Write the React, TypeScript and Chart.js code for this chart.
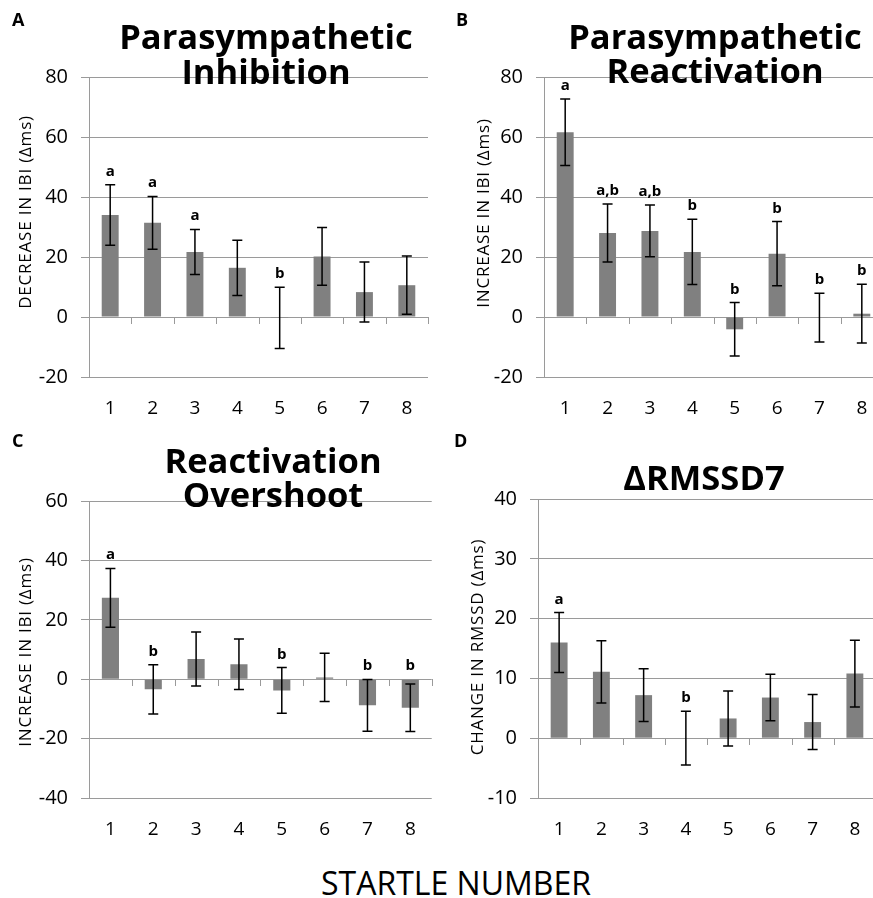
import React, { useEffect, useRef } from 'react';
import { Chart, registerables } from 'chart.js';

Chart.register(...registerables);

const FONT = "'Open Sans', sans-serif";
Chart.defaults.font.family = FONT;

// ---------- data ----------
const startleLabels = ['1', '2', '3', '4', '5', '6', '7', '8'];

const inhibitionMeans = [34.0, 31.4, 21.7, 16.4, -0.3, 20.2, 8.3, 10.6];
const inhibitionErrors = [10.1, 8.8, 7.5, 9.2, 10.2, 9.6, 10.0, 9.7];
const inhibitionLetters = ['a', 'a', 'a', '', 'b', '', '', ''];
const inhibitionTicks = { min: -20, max: 80, step: 20 };

const reactivationMeans = [61.6, 28.0, 28.7, 21.7, -4.1, 21.1, -0.2, 1.1];
const reactivationErrors = [11.1, 9.7, 8.6, 10.9, 8.9, 10.7, 8.1, 9.8];
const reactivationLetters = ['a', 'a,b', 'a,b', 'b', 'b', 'b', 'b', 'b'];
const reactivationTicks = { min: -20, max: 80, step: 20 };

const overshootMeans = [27.4, -3.4, 6.8, 5.0, -3.8, 0.6, -8.8, -9.6];
const overshootErrors = [9.9, 8.3, 9.1, 8.5, 7.7, 8.1, 8.7, 8.0];
const overshootLetters = ['a', 'b', '', '', 'b', '', 'b', 'b'];
const overshootTicks = { min: -40, max: 60, step: 20 };

const rmssdMeans = [16.0, 11.1, 7.2, 0.0, 3.3, 6.8, 2.7, 10.8];
const rmssdErrors = [5.0, 5.2, 4.4, 4.5, 4.6, 3.9, 4.6, 5.6];
const rmssdLetters = ['a', '', '', 'b', '', '', '', ''];
const rmssdTicks = { min: -10, max: 40, step: 10 };

const xAxisTitle = 'STARTLE NUMBER';

// ---------- layout ----------
type PanelDef = {
  key: string;
  left: number; top: number; width: number; height: number;
  chartLeft: number; chartTop: number; chartRight: number; chartBottom: number;
  labelPad: number;
  ticks: { min: number; max: number; step: number };
  means: number[]; errors: number[]; letters: string[];
  title: string[]; titleX: number; titleBaselines: number[];
  panelLetter: string; panelLetterX: number; panelLetterY: number;
  yTitle: string; yTitleX: number; yTitleY: number;
};

const panels: PanelDef[] = [
  {
    key: 'A', left: 0, top: 0, width: 436, height: 420,
    chartLeft: 89, chartTop: 77, chartRight: 428, chartBottom: 377, labelPad: 20,
    ticks: inhibitionTicks, means: inhibitionMeans, errors: inhibitionErrors, letters: inhibitionLetters,
    title: ['Parasympathetic', 'Inhibition'], titleX: 266, titleBaselines: [49, 84],
    panelLetter: 'A', panelLetterX: 12, panelLetterY: 26,
    yTitle: 'DECREASE IN IBI (\u0394ms)', yTitleX: 24.5, yTitleY: 212,
  },
  {
    key: 'B', left: 436, top: 0, width: 460, height: 420,
    chartLeft: 108, chartTop: 77, chartRight: 447, chartBottom: 377, labelPad: 20,
    ticks: reactivationTicks, means: reactivationMeans, errors: reactivationErrors, letters: reactivationLetters,
    title: ['Parasympathetic', 'Reactivation'], titleX: 279, titleBaselines: [49, 83],
    panelLetter: 'B', panelLetterX: 20, panelLetterY: 26,
    yTitle: 'INCREASE IN IBI (\u0394ms)', yTitleX: 46.5, yTitleY: 213,
  },
  {
    key: 'C', left: 0, top: 420, width: 436, height: 420,
    chartLeft: 89, chartTop: 81, chartRight: 432, chartBottom: 378, labelPad: 20,
    ticks: overshootTicks, means: overshootMeans, errors: overshootErrors, letters: overshootLetters,
    title: ['Reactivation', 'Overshoot'], titleX: 273, titleBaselines: [53, 87],
    panelLetter: 'C', panelLetterX: 12, panelLetterY: 27,
    yTitle: 'INCREASE IN IBI (\u0394ms)', yTitleX: 25, yTitleY: 232,
  },
  {
    key: 'D', left: 436, top: 420, width: 460, height: 420,
    chartLeft: 102, chartTop: 79, chartRight: 440, chartBottom: 378, labelPad: 20,
    ticks: rmssdTicks, means: rmssdMeans, errors: rmssdErrors, letters: rmssdLetters,
    title: ['\u0394RMSSD7'], titleX: 268, titleBaselines: [70],
    panelLetter: 'D', panelLetterX: 18, panelLetterY: 27,
    yTitle: 'CHANGE IN RMSSD (\u0394ms)', yTitleX: 41, yTitleY: 227,
  },
];

const GRID = '#9a9a9a';
const BAR = '#808080';

function makeDecorPlugin(def: PanelDef) {
  return {
    id: 'decor' + def.key,
    beforeDatasetsDraw(chart: any) {
      const ctx = chart.ctx;
      const xs = chart.scales.x;
      const ys = chart.scales.y;
      const y0 = Math.round(ys.getPixelForValue(0));
      const n = startleLabels.length;
      ctx.save();
      ctx.strokeStyle = GRID;
      ctx.lineWidth = 1;
      for (let i = 0; i < n; i++) {
        const bx = Math.round(xs.getPixelForValue(i + 0.5)) + 0.5;
        ctx.beginPath();
        ctx.moveTo(bx, y0);
        ctx.lineTo(bx, y0 + 7);
        ctx.stroke();
      }
      ctx.restore();
    },
    afterDatasetsDraw(chart: any) {
      const ctx = chart.ctx;
      const ys = chart.scales.y;
      const meta = chart.getDatasetMeta(0);
      ctx.save();
      ctx.strokeStyle = '#000';
      ctx.lineWidth = 1.5;
      for (let i = 0; i < def.means.length; i++) {
        const x = meta.data[i].x;
        const top = ys.getPixelForValue(def.means[i] + def.errors[i]);
        const bot = ys.getPixelForValue(def.means[i] - def.errors[i]);
        ctx.beginPath();
        ctx.moveTo(x, top);
        ctx.lineTo(x, bot);
        ctx.moveTo(x - 5, top);
        ctx.lineTo(x + 5, top);
        ctx.moveTo(x - 5, bot);
        ctx.lineTo(x + 5, bot);
        ctx.stroke();
      }
      ctx.fillStyle = '#000';
      ctx.font = `bold 15px ${FONT}`;
      ctx.textAlign = 'center';
      ctx.textBaseline = 'alphabetic';
      for (let i = 0; i < def.letters.length; i++) {
        if (!def.letters[i]) continue;
        const x = meta.data[i].x;
        const yv = ys.getPixelForValue(Math.max(def.means[i] + def.errors[i], 0));
        ctx.fillText(def.letters[i], x, yv - 9);
      }
      ctx.restore();
    },
    afterDraw(chart: any) {
      const ctx = chart.ctx;
      ctx.save();
      ctx.fillStyle = '#000';
      ctx.textBaseline = 'alphabetic';
      // panel title
      ctx.font = `bold 34.5px ${FONT}`;
      ctx.textAlign = 'center';
      def.title.forEach((line, i) => ctx.fillText(line, def.titleX, def.titleBaselines[i]));
      // panel letter
      ctx.font = `bold 18px ${FONT}`;
      ctx.textAlign = 'left';
      ctx.fillText(def.panelLetter, def.panelLetterX, def.panelLetterY);
      // y axis title
      ctx.font = `17px ${FONT}`;
      try { (ctx as any).letterSpacing = '0.8px'; } catch (e) { /* ignore */ }
      ctx.translate(def.yTitleX + 6, def.yTitleY);
      ctx.rotate(-Math.PI / 2);
      ctx.textAlign = 'center';
      ctx.fillText(def.yTitle, 0, 0);
      ctx.restore();
    },
  };
}

function buildConfig(def: PanelDef): any {
  return {
    type: 'bar',
    data: {
      labels: startleLabels,
      datasets: [
        {
          data: def.means,
          backgroundColor: BAR,
          borderWidth: 0,
          barPercentage: 0.4,
          categoryPercentage: 1,
        },
      ],
    },
    options: {
      animation: false,
      responsive: false,
      maintainAspectRatio: false,
      devicePixelRatio: 1,
      layout: {
        padding: { top: def.chartTop, right: def.width - def.chartRight, left: 0, bottom: 0 },
      },
      plugins: {
        legend: { display: false },
        tooltip: { enabled: false },
        title: { display: false },
      },
      scales: {
        x: {
          grid: { display: false, drawTicks: false },
          border: { display: false },
          ticks: { color: '#000', font: { family: FONT, size: 19 }, padding: def.labelPad, maxRotation: 0 },
          afterFit(s: any) { s.height = def.height - def.chartBottom; },
        },
        y: {
          min: def.ticks.min,
          max: def.ticks.max,
          ticks: { stepSize: def.ticks.step, color: '#000', font: { family: FONT, size: 20 }, padding: 13 },
          grid: { color: GRID, lineWidth: 1, tickLength: 8 },
          border: { display: true, color: GRID, width: 1 },
          afterFit(s: any) { s.width = def.chartLeft; },
        },
      },
    },
    plugins: [makeDecorPlugin(def)],
  };
}

function Panel({ def }: { def: PanelDef }) {
  const ref = useRef<HTMLCanvasElement>(null);
  useEffect(() => {
    if (!ref.current) return;
    const chart = new Chart(ref.current, buildConfig(def));
    return () => chart.destroy();
  }, [def]);
  return (
    <canvas
      ref={ref}
      width={def.width}
      height={def.height}
      style={{ position: 'absolute', left: def.left, top: def.top, width: def.width, height: def.height }}
    />
  );
}

export default function App() {
  useEffect(() => {
    document.body.style.margin = '0';
  }, []);
  return (
    <div
      style={{
        position: 'absolute', left: 0, top: 0, width: 873, height: 898,
        overflow: 'hidden', background: '#fff',
      }}
    >
      {panels.map((p) => (
        <Panel key={p.key} def={p} />
      ))}
      <div
        style={{
          position: 'absolute', left: 0, width: 912, top: 867, textAlign: 'center',
          fontFamily: FONT, fontSize: 32, lineHeight: '32px', color: '#000', whiteSpace: 'nowrap',
        }}
      >
        {xAxisTitle}
      </div>
    </div>
  );
}
